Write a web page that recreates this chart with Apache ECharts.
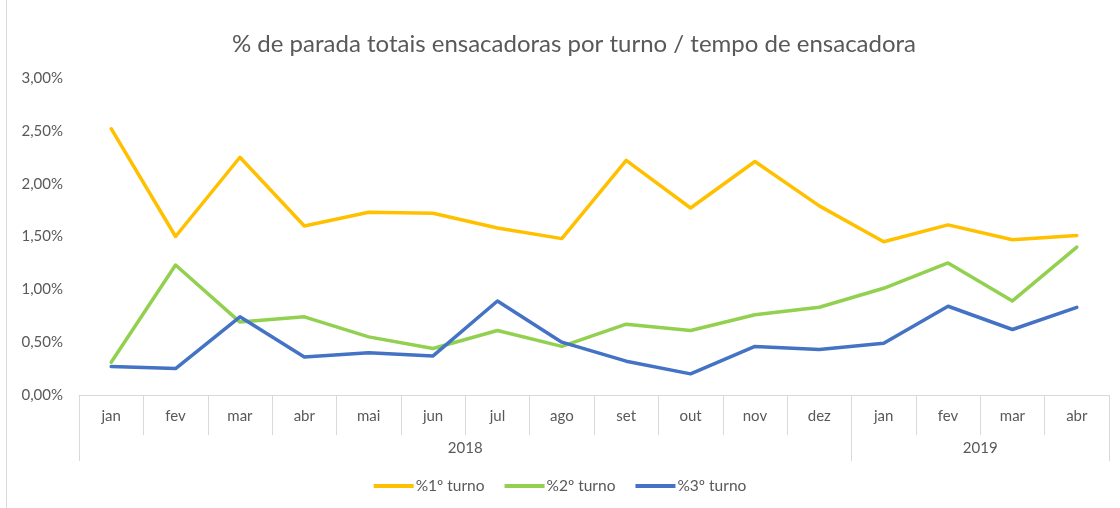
<!DOCTYPE html>
<html>
<head>
<meta charset="utf-8">
<script src="https://cdn.jsdelivr.net/npm/echarts@6/dist/echarts.min.js"></script>
<style>
    html, body { margin: 0; padding: 0; background: #fff; }
    #chart { width: 1120px; height: 508px; }
</style>
</head>
<body>
<div id="chart"></div>
<script>
// meses (2018 jan..dez, 2019 jan..abr)
const months = ['jan', 'fev', 'mar', 'abr', 'mai', 'jun', 'jul', 'ago', 'set', 'out', 'nov', 'dez', 'jan', 'fev', 'mar', 'abr'];
const years = ['2018', '2019'];
const yearCenters = [6, 14];     // meio de cada bloco de meses
const yearBounds = [0, 12, 16];  // divisões entre anos

const turno1 = [2.52, 1.50, 2.25, 1.60, 1.73, 1.72, 1.58, 1.48, 2.22, 1.77, 2.21, 1.79, 1.45, 1.61, 1.47, 1.51];
const turno2 = [0.31, 1.23, 0.69, 0.74, 0.55, 0.44, 0.61, 0.46, 0.67, 0.61, 0.76, 0.83, 1.01, 1.25, 0.89, 1.40];
const turno3 = [0.27, 0.25, 0.74, 0.36, 0.40, 0.37, 0.89, 0.50, 0.32, 0.20, 0.46, 0.43, 0.49, 0.84, 0.62, 0.83];

const textColor = '#595959';
const lineGray = '#d9d9d9';
const font = 'Lato, "Open Sans", sans-serif';

const chart = echarts.init(document.getElementById('chart'));

function pct(v) {
    return v.toFixed(2).replace('.', ',') + '%';
}

function lineSeries(name, data, color) {
    return {
        name: name,
        type: 'line',
        data: data,
        symbol: 'none',
        lineStyle: { width: 3.5, color: color, cap: 'round', join: 'round' },
        itemStyle: { color: color },
        emphasis: { disabled: true }
    };
}

const option = {
    animation: false,
    textStyle: { fontFamily: font, color: textColor },
    title: {
        text: '% de parada totais ensacadoras por turno / tempo de ensacadora',
        left: 569,
        top: 27,
        textAlign: 'center',
        textStyle: { fontSize: 24, fontWeight: 'normal', color: textColor, fontFamily: font }
    },
    graphic: [
        { type: 'line', shape: { x1: 6.5, y1: 0, x2: 6.5, y2: 508 }, style: { stroke: lineGray, lineWidth: 1 } }
    ],
    legend: {
        bottom: 9,
        left: 'center',
        icon: 'rect',
        itemWidth: 40,
        itemHeight: 4,
        itemGap: 20,
        textStyle: { fontSize: 15.5, color: textColor, fontFamily: font, padding: [0, 0, 0, -3] },
        data: ['%1º turno', '%2º turno', '%3º turno']
    },
    grid: {
        left: 79,
        right: 11,
        top: 78,
        bottom: 113
    },
    xAxis: [
        {
            type: 'category',
            data: months,
            boundaryGap: true,
            position: 'bottom',
            axisLine: { lineStyle: { color: lineGray, width: 1 } },
            axisTick: { show: true, interval: 0, length: 40, lineStyle: { color: lineGray } },
            axisLabel: { interval: 0, margin: 14, fontSize: 15, color: textColor, fontFamily: font },
            splitLine: { show: false }
        },
        {
            type: 'value',
            min: 0,
            max: 16,
            position: 'bottom',
            axisLine: { show: false },
            axisTick: { show: true, length: 66, customValues: yearBounds, lineStyle: { color: lineGray } },
            axisLabel: {
                customValues: yearCenters,
                margin: 46,
                fontSize: 15,
                color: textColor,
                fontFamily: font,
                formatter: function (v) { return years[yearCenters.indexOf(v)]; }
            },
            splitLine: { show: false }
        }
    ],
    yAxis: {
        type: 'value',
        min: 0,
        max: 3,
        interval: 0.5,
        axisLine: { show: false },
        axisTick: { show: false },
        splitLine: { show: false },
        axisLabel: { fontSize: 15, color: textColor, margin: 16, fontFamily: font, formatter: pct }
    },
    series: [
        lineSeries('%1º turno', turno1, '#FFC000'),
        lineSeries('%2º turno', turno2, '#92D050'),
        lineSeries('%3º turno', turno3, '#4472C4')
    ]
};

chart.setOption(option);
</script>
</body>
</html>
